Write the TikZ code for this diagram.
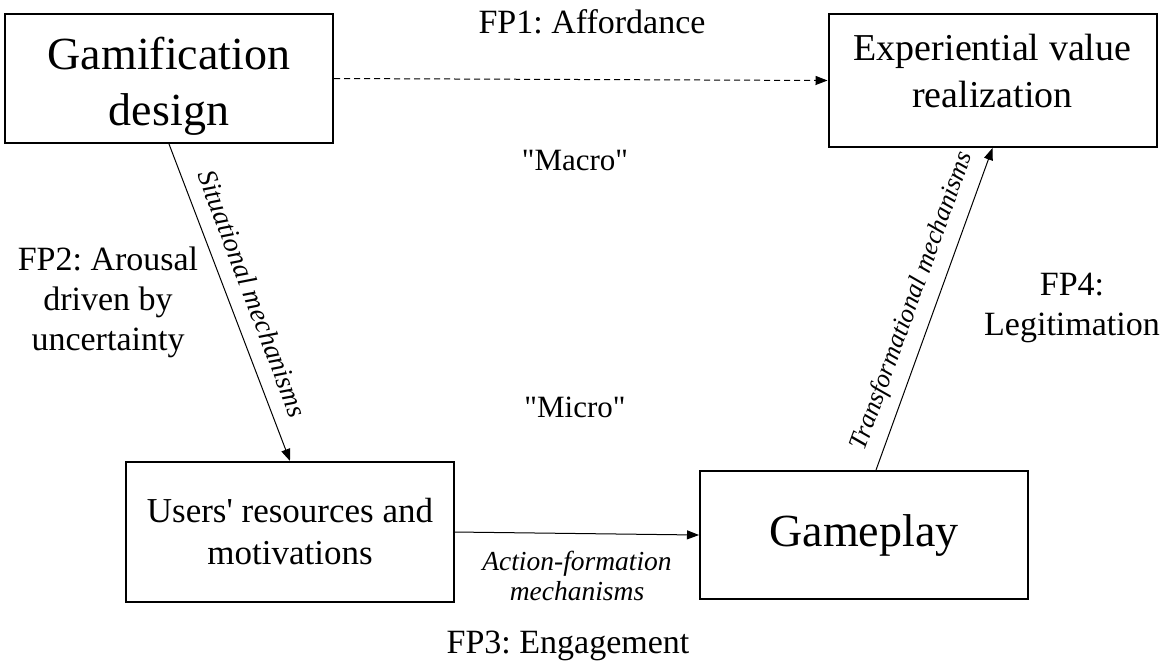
\documentclass[tikz,border=0pt]{standalone}
\usepackage{fontspec}
\setmainfont{Liberation Serif}[Ligatures=TeXOff]
\usetikzlibrary{arrows.meta}
\frenchspacing

\begin{document}
\begin{tikzpicture}[x=0.5pt,y=-0.5pt]
		\begin{scope}[scale=1]
		
		\tikzstyle{mybox}=[rectangle,
		draw=black,
		line width=1pt,
		align=center,
		inner sep=0pt,
		minimum width=164pt
		]
		\tikzstyle{mylabel}=[align=center,
		inner sep=0pt,
		anchor=base,
		font=\fontsize{17}{20}\selectfont
		]
		\tikzstyle{myarrow}=[line width=0.5pt,
		-{Triangle[length=6pt,width=4.5pt]}
		]
		\tikzstyle{mymech}=[font=\itshape\fontsize{13.75}{15}\selectfont]
		
		\useasboundingbox (0,0) rectangle (1165,661);
		
		\coordinate (pg1) at (169, 78.5);
		\coordinate (pg2) at (992.5, 80.5);
		\coordinate (pg3) at (290, 532);
		\coordinate (pg4) at (864, 535);
		
		% base = last line of the text
		\coordinate (t1) at (592, 33);
		\coordinate (t2) at (108, 350);
		\coordinate (t3) at (568, 653);
		\coordinate (t4) at (1072, 335);
		\coordinate (t5) at (575, 170);
		\coordinate (t6) at (575, 417);
		
		\node[mybox, minimum height=64.5pt, font=\fontsize{23}{28}\selectfont] (gam) at (pg1) {\rule{0pt}{24pt}Gamification\\design};
		\node[mybox, minimum height=66.5pt, font=\fontsize{19}{23.5}\selectfont] (exp) at (pg2) {Experiential value\\realization\rule[-10pt]{0pt}{0pt}};
		\node[mybox, minimum height=70pt, font=\fontsize{17.5}{21}\selectfont] (usr) at (pg3) {Users' resources and\\motivations};
		\node[mybox, minimum height=64pt, font=\fontsize{23}{28}\selectfont] (gmp) at (pg4) {Gameplay};
		
		\draw[myarrow, dash pattern=on 3pt off 2pt] (gam.east) -- (exp.west);
		\draw[myarrow] (gam.south) -- node[mymech, midway, sloped, above=4pt] (sit) {Situational mechanisms} (usr.north);
		\draw[myarrow] (usr.east) -- node[mymech, midway, below=5pt, align=center] (act) {Action-formation\\mechanisms} (gmp.west);
		\draw[myarrow] ([xshift=6pt]gmp.north) -- node[mymech, midway, sloped, above=2pt, font=\itshape\fontsize{13}{15}\selectfont] (trf) {Transformational mechanisms} (exp.south);
		
		\node[mylabel] (fp1) at (t1) {FP1: Affordance};
		\node[mylabel] (fp2) at (t2) {FP2: Arousal\\driven by\\uncertainty};
		\node[mylabel] (fp3) at (t3) {FP3: Engagement};
		\node[mylabel] (fp4) at (t4) {FP4:\\Legitimation};
		\node[mylabel, font=\fontsize{15.5}{18}\selectfont] (mac) at (t5) {"Macro"};
		\node[mylabel, font=\fontsize{15.5}{18}\selectfont] (mic) at (t6) {"Micro"};
		
		\end{scope}
		\end{tikzpicture}
\end{document}
